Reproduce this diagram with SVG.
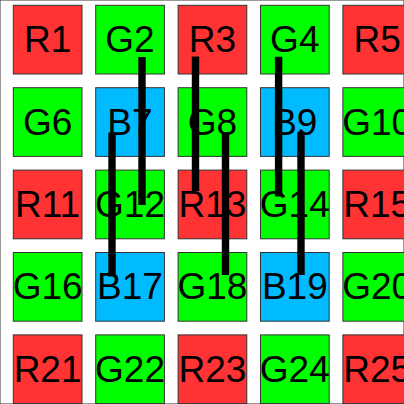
<svg xmlns="http://www.w3.org/2000/svg" width="404" height="404" viewBox="0 0 404 404">
<style>
rect{stroke:#333;stroke-width:1}
.r{fill:#ff3333}.g{fill:#00ff00}.b{fill:#00bbff}
text{font-family:"Liberation Sans",Arial,sans-serif;font-size:37px;fill:#000;text-anchor:middle;dominant-baseline:central}
#connectors line{stroke:#000;stroke-width:7.4}
</style>
<rect width="404" height="404" fill="#fff" stroke="none"/>
<g id="R1"><rect class="r" x="13.3" y="5.3" width="68.7" height="68.7"/><text x="47.6" y="39.7">R1</text></g>
<g id="G2"><rect class="g" x="95.7" y="5.3" width="68.7" height="68.7"/><text x="130" y="39.7">G2</text></g>
<g id="R3"><rect class="r" x="178.1" y="5.3" width="68.7" height="68.7"/><text x="212.4" y="39.7">R3</text></g>
<g id="G4"><rect class="g" x="260.5" y="5.3" width="68.7" height="68.7"/><text x="294.8" y="39.7">G4</text></g>
<g id="R5"><rect class="r" x="342.9" y="5.3" width="68.7" height="68.7"/><text x="377.2" y="39.7">R5</text></g>
<g id="G6"><rect class="g" x="13.3" y="87.7" width="68.7" height="68.7"/><text x="47.6" y="122.1">G6</text></g>
<g id="B7"><rect class="b" x="95.7" y="87.7" width="68.7" height="68.7"/><text x="130" y="122.1">B7</text></g>
<g id="G8"><rect class="g" x="178.1" y="87.7" width="68.7" height="68.7"/><text x="212.4" y="122.1">G8</text></g>
<g id="B9"><rect class="b" x="260.5" y="87.7" width="68.7" height="68.7"/><text x="294.8" y="122.1">B9</text></g>
<g id="G10"><rect class="g" x="342.9" y="87.7" width="68.7" height="68.7"/><text x="377.2" y="122.1">G10</text></g>
<g id="R11"><rect class="r" x="13.3" y="170.1" width="68.7" height="68.7"/><text x="47.6" y="204.5">R11</text></g>
<g id="G12"><rect class="g" x="95.7" y="170.1" width="68.7" height="68.7"/><text x="130" y="204.5">G12</text></g>
<g id="R13"><rect class="r" x="178.1" y="170.1" width="68.7" height="68.7"/><text x="212.4" y="204.5">R13</text></g>
<g id="G14"><rect class="g" x="260.5" y="170.1" width="68.7" height="68.7"/><text x="294.8" y="204.5">G14</text></g>
<g id="R15"><rect class="r" x="342.9" y="170.1" width="68.7" height="68.7"/><text x="377.2" y="204.5">R15</text></g>
<g id="G16"><rect class="g" x="13.3" y="252.5" width="68.7" height="68.7"/><text x="47.6" y="286.9">G16</text></g>
<g id="B17"><rect class="b" x="95.7" y="252.5" width="68.7" height="68.7"/><text x="130" y="286.9">B17</text></g>
<g id="G18"><rect class="g" x="178.1" y="252.5" width="68.7" height="68.7"/><text x="212.4" y="286.9">G18</text></g>
<g id="B19"><rect class="b" x="260.5" y="252.5" width="68.7" height="68.7"/><text x="294.8" y="286.9">B19</text></g>
<g id="G20"><rect class="g" x="342.9" y="252.5" width="68.7" height="68.7"/><text x="377.2" y="286.9">G20</text></g>
<g id="R21"><rect class="r" x="13.3" y="334.9" width="68.7" height="68.7"/><text x="47.6" y="369.3">R21</text></g>
<g id="G22"><rect class="g" x="95.7" y="334.9" width="68.7" height="68.7"/><text x="130" y="369.3">G22</text></g>
<g id="R23"><rect class="r" x="178.1" y="334.9" width="68.7" height="68.7"/><text x="212.4" y="369.3">R23</text></g>
<g id="G24"><rect class="g" x="260.5" y="334.9" width="68.7" height="68.7"/><text x="294.8" y="369.3">G24</text></g>
<g id="R25"><rect class="r" x="342.9" y="334.9" width="68.7" height="68.7"/><text x="377.2" y="369.3">R25</text></g>
<g id="connectors">
<line x1="142" y1="57" x2="142" y2="205"/>
<line x1="195.5" y1="56.5" x2="195.5" y2="191"/>
<line x1="278.6" y1="56.7" x2="278.6" y2="196.5"/>
<line x1="112" y1="132.5" x2="112" y2="276.5"/>
<line x1="225.5" y1="132" x2="225.5" y2="275"/>
<line x1="301" y1="131.7" x2="301" y2="275"/>
</g>
</svg>
